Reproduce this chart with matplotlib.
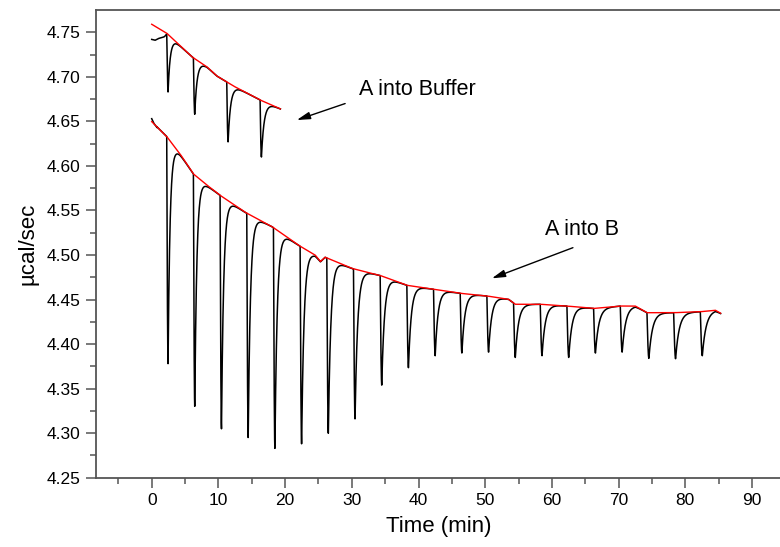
import numpy as np
import matplotlib
matplotlib.use("Agg")
import matplotlib.pyplot as plt

plt.rcParams["font.family"] = ["Liberation Sans", "DejaVu Sans"]

# "A into Buffer" run: injection times (min) and peak minima (ucal/sec)
buf_inj = [2.25, 6.25, 11.25, 16.25]
buf_min = [4.683, 4.658, 4.627, 4.610]
# fitted baseline (red) knots
buf_base_t = [0, 2.25, 6.0, 8.25, 9.75, 12.25, 16.25, 19.3]
buf_base_y = [4.759, 4.749, 4.7226, 4.7114, 4.701, 4.6897, 4.674, 4.664]
# raw signal level before first injection
buf_pre_t = [0, 0.5, 1.0, 1.5, 1.9, 2.25]
buf_pre_y = [4.742, 4.741, 4.743, 4.744, 4.745, 4.748]

# "A into B" run
ab_inj = [2.25 + 4 * k for k in range(21)]
ab_min = [4.378, 4.330, 4.305, 4.295, 4.283, 4.288, 4.300, 4.316, 4.354,
          4.3735, 4.387, 4.390, 4.391, 4.385, 4.387, 4.385, 4.390, 4.391,
          4.384, 4.3836, 4.387]
ab_base_t = [0, 2.25, 4.25, 6.25, 8.25, 10.25, 14.0, 18.0, 22.0, 24.5, 25.3,
             26.0, 30.0, 34.25, 38.25, 42.25, 46.25, 50.25, 53.5, 54.5, 58.25,
             62.25, 66.25, 70.25, 72.5, 74.25, 78.25, 82.25, 84.5, 85.3]
ab_base_y = [4.6497, 4.633, 4.6134, 4.591, 4.5786, 4.567, 4.548, 4.532, 4.511,
             4.500, 4.4927, 4.4975, 4.485, 4.477, 4.466, 4.4615, 4.457, 4.454,
             4.4503, 4.4447, 4.4447, 4.4427, 4.440, 4.4427, 4.4427, 4.4352,
             4.4352, 4.4363, 4.438, 4.4346]
ab_pre_t = [0, 0.3, 0.8]
ab_pre_y = [4.653, 4.648, 4.643]


def trace(t, base, inj, mins, tau0, tau1, tmin0=0.2, tmin1=0.2):
    y = base.copy()
    taus = np.linspace(tau0, tau1, len(inj))
    tmins = np.linspace(tmin0, tmin1, len(inj))
    for ti, m, tau, tmin in zip(inj, mins, taus, tmins):
        b = np.interp(ti + tmin, t, base)
        depth = b - m
        dt = t - ti
        d = np.zeros_like(t)
        fall = (dt >= 0) & (dt < tmin)
        d[fall] = depth * np.sin(0.5 * np.pi * dt[fall] / tmin)
        rise = dt >= tmin
        r = dt[rise] - tmin
        d[rise] = depth * (0.97 * np.exp(-r / tau) + 0.03 * np.exp(-r / 0.9))
        y -= d
    return y


t_buf = np.arange(0, 19.3, 0.01)
red_buf = np.interp(t_buf, buf_base_t, buf_base_y)
raw_base = red_buf.copy()
pre = t_buf <= buf_pre_t[-1]
raw_base[pre] = np.interp(t_buf[pre], buf_pre_t, buf_pre_y)
blk_buf = trace(t_buf, raw_base, buf_inj, buf_min, 0.33, 0.4)

t_ab = np.arange(0, 85.3, 0.01)
red_ab = np.interp(t_ab, ab_base_t, ab_base_y)
raw_ab = red_ab.copy()
pre = t_ab <= ab_pre_t[-1]
raw_ab[pre] = np.interp(t_ab[pre], ab_pre_t, ab_pre_y)
blk_ab = trace(t_ab, raw_ab, ab_inj, ab_min, 0.3, 0.55, 0.2, 0.3)

fig = plt.figure(figsize=(7.8, 5.47), dpi=100)
ax = fig.add_axes([0.1231, 0.1267, 0.8795, 0.855])
ax.plot(t_buf, blk_buf, color="black", lw=1.1)
ax.plot(t_buf, red_buf, color="red", lw=1.0)
ax.plot(t_ab, blk_ab, color="black", lw=1.1)
ax.plot(t_ab, red_ab, color="red", lw=1.0)

ax.set_xlim(-8.35, 94.5)
ax.set_ylim(4.25, 4.775)
ax.set_xticks(np.arange(0, 91, 10))
ax.set_xticks(np.arange(-5, 95, 5), minor=True)
ax.set_yticks(np.arange(4.25, 4.76, 0.05))
ax.set_yticks(np.arange(4.275, 4.775, 0.05), minor=True)
ax.yaxis.set_major_formatter(matplotlib.ticker.FormatStrFormatter("%.2f"))
ax.spines["right"].set_visible(False)
for s in ["left", "bottom", "top"]:
    ax.spines[s].set_color("#555555")
    ax.spines[s].set_linewidth(1.3)
ax.tick_params(which="major", length=7, width=1.1, color="#555555",
               labelsize=12.5, pad=4)
ax.tick_params(which="minor", length=4, width=1.1, color="#555555")
ax.set_xlabel("Time (min)", fontsize=16, labelpad=6)
ax.set_ylabel("µcal/sec", fontsize=16, labelpad=6)

arrow = dict(arrowstyle="-|>,head_length=0.8,head_width=0.22", color="black",
             lw=1.0, shrinkA=0, shrinkB=0)
ax.annotate("", xy=(21.75, 4.6515), xytext=(29.0, 4.670), arrowprops=arrow)
ax.text(31.1, 4.686, "A into Buffer", fontsize=15.5, va="center", ha="left")
ax.annotate("", xy=(51.0, 4.4738), xytext=(63.15, 4.5082), arrowprops=arrow)
ax.text(58.9, 4.529, "A into B", fontsize=15.5, va="center", ha="left")

fig.savefig("out.png", dpi=100)
